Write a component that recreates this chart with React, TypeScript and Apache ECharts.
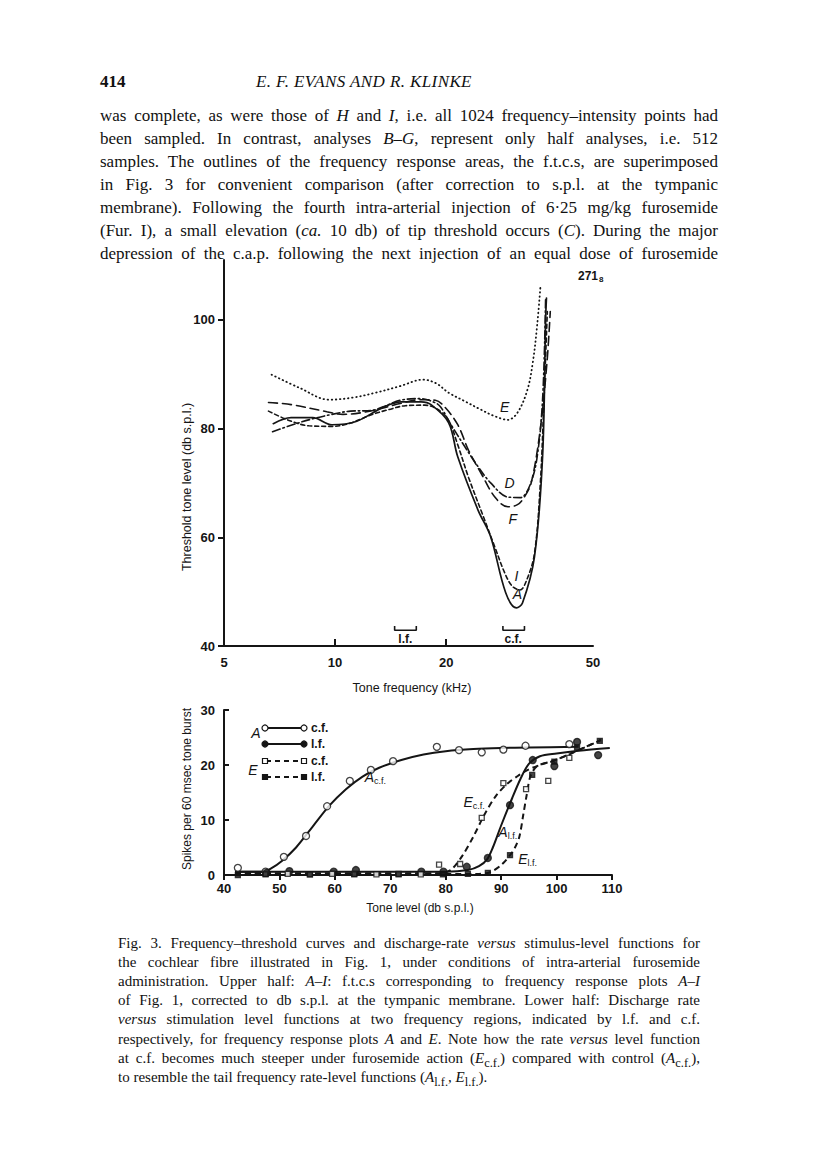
import React, { useEffect, useRef } from 'react';
import * as echarts from 'echarts';

// ---------- Upper panel: frequency-threshold curves (kHz, dB s.p.l.) ----------
const curveA = [[6.8,80.9],[7.6,82.0],[8.7,82.0],[9.8,80.7],[11.4,81.3],[13.4,83.8],[15.1,84.9],[17.1,84.9],[18.2,84.4],[20.3,81.1],[21.5,74.8],[24.4,65.0],[26.4,60.1],[29.0,49.8],[31.0,47.0],[32.2,47.9],[34.7,56.4],[36.5,74.8],[37.2,100],[37.4,104]];
const curveD = [[6.77,79.4],[7.6,80.6],[8.7,81.8],[9.8,82.6],[11.0,83.2],[12.5,83.3],[13.5,84.0],[15,85.2],[17,85.5],[18.6,84.8],[19.3,84.0],[20.5,81],[22.5,76.6],[24.4,73.0],[26.4,70.0],[29.4,67.4],[31.8,67.3],[33.6,69.3],[35.2,74.3],[36.5,85.3],[37.2,104]];
const curveE = [[6.73,89.9],[8.0,87.5],[9.64,85.3],[11.2,85.7],[12.9,86.6],[15.0,87.8],[17.3,89.0],[18.8,88.3],[20.3,86.6],[22.5,85.0],[24.8,83.5],[27.0,82.3],[29.4,81.6],[31.2,82.9],[33.2,87.1],[34.4,92.5],[35.3,99.1],[36.0,105.9]];
const curveF = [[6.6,84.8],[7.6,84.4],[9.5,83.1],[10.5,82.6],[12,83],[13.5,83.8],[15,84.6],[17,85.3],[18.7,85.2],[19.8,84],[21.5,80.7],[23,76],[25,71.5],[27.1,67.4],[29.4,65.6],[31.2,66.0],[32.5,67.3],[34,70],[36,80],[37.5,92],[38.3,101.5]];
const curveI = [[6.6,83.2],[7.5,81.5],[8.5,80.5],[9.8,80.4],[11,81],[12.5,82.5],[14,83.5],[15.5,84.2],[17.5,84.3],[19,83.5],[20.3,81.5],[21.5,77],[23,71],[25,64.5],[27,58.5],[28.8,53.5],[30.2,51],[31.7,50.3],[33,52],[34.7,57],[36,70],[36.8,85],[37.6,101.5]];
const curveLabels = [[28.8,84.0,'E'],[29.7,70.0,'D'],[30.3,63.4,'F'],[31.0,52.9,'I'],[31.2,49.6,'A']];
const bracketLF = [[14.5,43.7],[14.5,42.9],[16.6,42.9],[16.6,43.7]];
const bracketCF = [[28.5,43.7],[28.5,42.9],[32.6,42.9],[32.6,43.7]];
const bracketLabels = [[15.5,41.2,'l.f.'],[30.4,41.2,'c.f.']];
const freqTicks = [5,10,20,50];
const freqInnerTicks = [10,20];
const thresholdTicks = [40,60,80,100];

// ---------- Lower panel: rate-level functions (dB s.p.l., spikes) ----------
const AcfPoints = [[42.5,1.3],[47.5,0.6],[50.8,3.3],[54.8,7.1],[58.6,12.5],[62.7,17.1],[66.5,19.1],[70.5,20.7],[78.4,23.3],[82.4,22.7],[86.5,22.3],[90.4,22.8],[94.4,23.5],[102.3,23.8]];
const AlfPoints = [[47.7,0.4],[51.8,0.7],[59.8,0.6],[63.8,0.9],[75.6,0.6],[79.6,0.6],[83.8,1.5],[87.6,3.1],[91.6,12.7],[95.7,20.9],[99.6,19.8],[103.7,24.2],[107.5,21.8]];
const EcfPoints = [[47.5,0.2],[51.5,0.2],[55.5,0.1],[59.5,0.2],[63.5,0.2],[67.5,0.1],[71.5,0.2],[75.5,0.1],[78.8,1.9],[82.6,2.0],[86.5,10.4],[90.4,16.7],[94.5,15.6],[98.5,17.1],[102.3,21.3]];
const ElfPoints = [[42.5,0.0],[47.5,0.1],[55.5,0.1],[63.5,0.1],[71.5,0.1],[79.5,0.1],[84,0.2],[87.6,0.4],[91.6,3.6],[95.6,18.2],[99.6,20.6],[103.7,23.2],[107.8,24.4]];
const AcfCurve = [[42,0.6],[47,0.6],[48.5,1.2],[50.5,2.6],[53,5],[56,8.8],[59,12.6],[62,15.6],[65,17.9],[68,19.5],[72,20.9],[76,21.9],[80,22.5],[85,22.9],[90,23.1],[95,23.2],[104,23.3]];
const AlfCurve = [[42,0.6],[60,0.6],[80,0.6],[84,0.9],[86,1.6],[87.5,2.9],[88.5,5],[90,9],[92,14],[93.5,17.5],[95,20.2],[97,21.6],[100,22.1],[104,22.6],[109.6,23.1]];
const EcfCurve = [[42,0.3],[79,0.3],[81,1],[83,3.5],[85,7],[87,11],[89,14.3],[91,16.5],[93,18],[95,19.2],[97,20],[100,21],[103,22.3],[106,23.6],[108,24.6]];
const ElfCurve = [[42,0.2],[86,0.2],[88,0.5],[90,1.8],[91.6,3.6],[92.5,5],[93.3,7],[94,11],[94.6,14.5],[95.3,18],[96.5,19.8],[99,20.6],[102,21.8],[105,23.2],[108,24.5]];
const rateLabels = [[65.3,17.8,'A','c.f.'],[83.1,13.3,'E','c.f.'],[89.4,7.8,'A','l.f.'],[93.0,2.9,'E','l.f.']];

const SANS = 'Liberation Sans, Arial, sans-serif';
const SERIF = 'Liberation Serif, Times New Roman, serif';
const INK = '#151515';

const paragraph = [
  <>was complete, as were those of <i>H</i> and <i>I</i>, i.e. all 1024 frequency–intensity points had</>,
  <>been sampled. In contrast, analyses <i>B–G</i>, represent only half analyses, i.e. 512</>,
  <>samples. The outlines of the frequency response areas, the f.t.c.s, are superimposed</>,
  <>in Fig. 3 for convenient comparison (after correction to s.p.l. at the tympanic</>,
  <>membrane). Following the fourth intra-arterial injection of 6·25 mg/kg furosemide</>,
  <>(Fur. I), a small elevation (<i>ca.</i> 10 db) of tip threshold occurs (<i>C</i>). During the major</>,
  <>depression of the c.a.p. following the next injection of an equal dose of furosemide</>,
];
const caption = [
  <>Fig. 3. Frequency–threshold curves and discharge-rate <i>versus</i> stimulus-level functions for</>,
  <>the cochlear fibre illustrated in Fig. 1, under conditions of intra-arterial furosemide</>,
  <>administration. Upper half: <i>A–I</i>: f.t.c.s corresponding to frequency response plots <i>A–I</i></>,
  <>of Fig. 1, corrected to db s.p.l. at the tympanic membrane. Lower half: Discharge rate</>,
  <><i>versus</i> stimulation level functions at two frequency regions, indicated by l.f. and c.f.</>,
  <>respectively, for frequency response plots <i>A</i> and <i>E</i>. Note how the rate <i>versus</i> level function</>,
  <>at c.f. becomes much steeper under furosemide action (<i>E</i><sub>c.f.</sub>) compared with control (<i>A</i><sub>c.f.</sub>),</>,
  <>to resemble the tail frequency rate-level functions (<i>A</i><sub>l.f.</sub>, <i>E</i><sub>l.f.</sub>).</>,
];

function topLine(name: string, data: number[][], type: any, width = 1.6) {
  return {
    type: 'line', name, xAxisIndex: 0, yAxisIndex: 0, data, showSymbol: false,
    smooth: 0.35, lineStyle: { color: INK, width, type, cap: 'round' }, z: 3,
  };
}
function lowLine(name: string, data: number[][], type: any) {
  return {
    type: 'line', name, xAxisIndex: 1, yAxisIndex: 1, data, showSymbol: false,
    smooth: 0.3, lineStyle: { color: INK, width: 2, type }, z: 3,
  };
}
function lowPts(name: string, data: number[][], symbol: string, filled: boolean, size: number) {
  return {
    type: 'scatter', name, xAxisIndex: 1, yAxisIndex: 1, data, symbol, symbolSize: size,
    itemStyle: { color: filled ? INK : '#fff', borderColor: INK, borderWidth: 1.3 }, z: 5,
  };
}

function legendRow(y: number, open: boolean, square: boolean, dashed: boolean, label: string) {
  const els: any[] = [];
  els.push({ type: 'line', shape: { x1: 266, y1: y, x2: 303, y2: y }, style: { stroke: INK, lineWidth: 2, lineDash: dashed ? [5, 4] : null } });
  for (const x of [265, 304]) {
    if (square) {
      els.push({ type: 'rect', shape: { x: x - 2.5, y: y - 2.5, width: 5, height: 5 }, style: { fill: open ? '#fff' : INK, stroke: INK, lineWidth: 1.2 }, z: 10 });
    } else {
      els.push({ type: 'circle', shape: { cx: x, cy: y, r: 3 }, style: { fill: open ? '#fff' : INK, stroke: INK, lineWidth: 1.2 }, z: 10 });
    }
  }
  els.push({ type: 'text', x: 311, y, style: { text: label, fill: INK, font: `bold 12px ${SANS}`, verticalAlign: 'middle', align: 'left' } });
  return els;
}

const labelBase = { color: INK, textBorderWidth: 0, textBorderColor: 'transparent', textShadowBlur: 0, opacity: 1 };

export default function App() {
  const ref = useRef<HTMLDivElement>(null);
  useEffect(() => {
    document.body.style.margin = '0';
    const chart = echarts.init(ref.current!, null, { renderer: 'svg', width: 816, height: 1160 });
    const axisLbl = { color: INK, fontWeight: 'bold', fontSize: 13, fontFamily: SANS };
    const option: any = {
      animation: false,
      backgroundColor: '#fff',
      grid: [
        { left: 224, top: 260, width: 369, height: 386 },
        { left: 224, top: 710, width: 388, height: 165 },
      ],
      xAxis: [
        {
          gridIndex: 0, type: 'log', logBase: 10, min: 5, max: 50,
          axisLine: { onZero: false, lineStyle: { color: INK, width: 2 } },
          axisTick: { inside: true, length: 7, customValues: freqInnerTicks, lineStyle: { color: INK, width: 2 } },
          axisLabel: { ...axisLbl, margin: 10, customValues: freqTicks, formatter: (v: number) => String(Math.round(v)) },
          splitLine: { show: false }, minorTick: { show: false },
        },
        {
          gridIndex: 1, type: 'value', min: 40, max: 110, interval: 10,
          axisLine: { onZero: false, lineStyle: { color: INK, width: 2 } },
          axisTick: { inside: false, length: 5, lineStyle: { color: INK, width: 2 } },
          axisLabel: { ...axisLbl, margin: 7 },
          splitLine: { show: false },
        },
      ],
      yAxis: [
        {
          gridIndex: 0, type: 'value', min: 40, max: 111,
          axisLine: { onZero: false, lineStyle: { color: INK, width: 2 } },
          axisTick: { inside: false, length: 6, customValues: thresholdTicks, lineStyle: { color: INK, width: 2 } },
          axisLabel: { ...axisLbl, margin: 9, customValues: thresholdTicks },
          splitLine: { show: false },
        },
        {
          gridIndex: 1, type: 'value', min: 0, max: 30, interval: 10,
          axisLine: { onZero: false, lineStyle: { color: INK, width: 2 } },
          axisTick: { inside: true, length: 5, lineStyle: { color: INK, width: 2 } },
          axisLabel: { ...axisLbl, margin: 9 },
          splitLine: { show: false },
        },
      ],
      series: [
        topLine('E', curveE, [0.5, 3.6], 1.8),
        topLine('F', curveF, [9, 5], 1.6),
        topLine('D', curveD, [8, 3, 1.5, 3], 1.6),
        topLine('I', curveI, [4, 3], 1.6),
        topLine('A', curveA, 'solid', 1.7),
        { type: 'line', xAxisIndex: 0, yAxisIndex: 0, data: bracketLF, showSymbol: false, lineStyle: { color: INK, width: 1.6 } },
        { type: 'line', xAxisIndex: 0, yAxisIndex: 0, data: bracketCF, showSymbol: false, lineStyle: { color: INK, width: 1.6 } },
        {
          type: 'scatter', xAxisIndex: 0, yAxisIndex: 0, data: curveLabels, symbolSize: 1,
          itemStyle: { color: INK, opacity: 0 }, z: 6,
          label: { ...labelBase, show: true, position: 'inside', formatter: (p: any) => p.data[2], fontStyle: 'italic', fontSize: 14, fontFamily: SANS },
        },
        {
          type: 'scatter', xAxisIndex: 0, yAxisIndex: 0, data: bracketLabels, symbolSize: 1,
          itemStyle: { color: INK, opacity: 0 }, z: 6,
          label: { ...labelBase, show: true, position: 'inside', formatter: (p: any) => p.data[2], fontWeight: 'bold', fontSize: 12, fontFamily: SANS },
        },
        lowLine('A c.f. curve', AcfCurve, 'solid'),
        lowLine('A l.f. curve', AlfCurve, 'solid'),
        lowLine('E c.f. curve', EcfCurve, [6, 4]),
        lowLine('E l.f. curve', ElfCurve, [6, 4]),
        lowPts('A c.f.', AcfPoints, 'circle', false, 7),
        lowPts('A l.f.', AlfPoints, 'circle', true, 7),
        lowPts('E c.f.', EcfPoints, 'rect', false, 5),
        lowPts('E l.f.', ElfPoints, 'rect', true, 5),
        {
          type: 'scatter', xAxisIndex: 1, yAxisIndex: 1, data: rateLabels, symbolSize: 1,
          itemStyle: { color: INK, opacity: 0 }, z: 6,
          label: {
            ...labelBase, show: true, position: 'right', distance: 0,
            formatter: (p: any) => `{i|${p.data[2]}}{s|${p.data[3]}}`,
            rich: {
              i: { fontStyle: 'italic', fontSize: 14, fontFamily: SANS, color: INK, textBorderWidth: 0 },
              s: { fontSize: 9, fontFamily: SANS, color: INK, textBorderWidth: 0, padding: [8, 0, 0, 0] },
            },
          },
        },
      ],
      graphic: [
        { type: 'text', x: 187, y: 487, rotation: Math.PI / 2, style: { text: 'Threshold tone level (db s.p.l.)', fill: INK, font: `12.5px ${SANS}`, align: 'center', verticalAlign: 'middle' } },
        { type: 'text', x: 412, y: 688, style: { text: 'Tone frequency (kHz)', fill: INK, font: `12.5px ${SANS}`, align: 'center', verticalAlign: 'middle' } },
        { type: 'text', x: 187, y: 789, rotation: Math.PI / 2, style: { text: 'Spikes per 60 msec tone burst', fill: INK, font: `12px ${SANS}`, align: 'center', verticalAlign: 'middle' } },
        { type: 'text', x: 420, y: 908, style: { text: 'Tone level (db s.p.l.)', fill: INK, font: `12px ${SANS}`, align: 'center', verticalAlign: 'middle' } },
        {
          type: 'text', x: 578, y: 276,
          style: {
            text: '{a|271}{b|8}', verticalAlign: 'middle', align: 'left',
            rich: { a: { fontSize: 12, fontWeight: 'bold', fontFamily: SANS, fill: INK }, b: { fontSize: 8, fontWeight: 'bold', fontFamily: SANS, fill: INK, padding: [7, 0, 0, 1] } },
          },
        },
        { type: 'text', x: 256, y: 733, style: { text: 'A', fill: INK, font: `italic 14px ${SANS}`, align: 'center', verticalAlign: 'middle' } },
        { type: 'text', x: 253, y: 770, style: { text: 'E', fill: INK, font: `italic 14px ${SANS}`, align: 'center', verticalAlign: 'middle' } },
        ...legendRow(728, true, false, false, 'c.f.'),
        ...legendRow(744, false, false, false, 'l.f.'),
        ...legendRow(761, true, true, true, 'c.f.'),
        ...legendRow(777, false, true, true, 'l.f.'),
      ],
    };
    chart.setOption(option);
    return () => chart.dispose();
  }, []);

  const lineStyle = (top: number, left: number, width: number, size: number, lh: number, last: boolean): React.CSSProperties => ({
    position: 'absolute', left, top, width, height: lh, lineHeight: `${lh}px`,
    fontFamily: SERIF, fontSize: size, color: '#111', whiteSpace: 'nowrap',
    textAlign: last ? 'left' : 'justify', textAlignLast: last ? 'left' : 'justify' as any,
  });

  return (
    <div style={{ position: 'relative', width: 816, height: 1160, background: '#fff', overflow: 'hidden' }}>
      <div ref={ref} style={{ position: 'absolute', left: 0, top: 0, width: 816, height: 1160 }} />
      <div style={{ position: 'absolute', left: 0, top: 0, width: 816, height: 1160, pointerEvents: 'none' }}>
        <div style={{ position: 'absolute', left: 100, top: 71, fontFamily: SERIF, fontSize: 17, lineHeight: '22px', color: '#111', fontWeight: 'bold' }}>414</div>
        <div style={{ position: 'absolute', left: 256, top: 71, width: 216, fontFamily: SERIF, fontSize: 17, lineHeight: '22px', color: '#111', fontStyle: 'italic', letterSpacing: 0.4, whiteSpace: 'nowrap' }}>E. F. EVANS AND R. KLINKE</div>
        {paragraph.map((t, i) => (
          <div key={'p' + i} style={lineStyle(105 + i * 23, 100, 618, 17, 22, false)}>{t}</div>
        ))}
        {caption.map((t, i) => (
          <div key={'c' + i} style={lineStyle(934 + i * 19.1, 118, 582, 15, 19, i === caption.length - 1)}>{t}</div>
        ))}
      </div>
    </div>
  );
}
